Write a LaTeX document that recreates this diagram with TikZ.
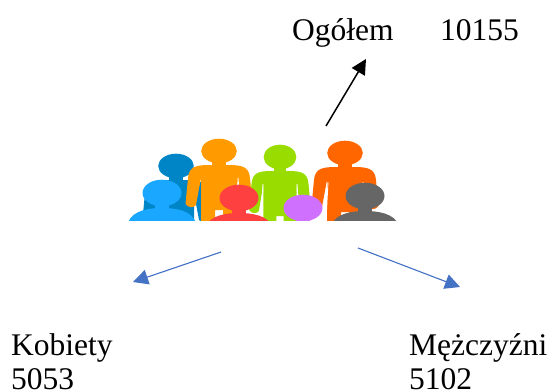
\documentclass[tikz,border=0pt]{standalone}
\usepackage{fontspec}
\setmainfont{Liberation Serif}
\usetikzlibrary{arrows.meta}
\definecolor{armblue}{HTML}{4472C4}
\definecolor{darkblue}{HTML}{0085C7}
\definecolor{lightblue}{HTML}{1AA7FF}
\definecolor{carrot}{HTML}{FF9A00}
\definecolor{lime}{HTML}{99DD00}
\definecolor{deeporange}{HTML}{FF6600}
\definecolor{coral}{HTML}{FF4040}
\definecolor{violet}{HTML}{D070FF}
\definecolor{slate}{HTML}{666666}
\tikzset{
  standing/.pic={
    \fill (0,0) ellipse (17.8 and 12.3);
    \fill (-7,8) rectangle (7,18);
    \fill (-8,14) .. controls (-22,14) and (-30,15) .. (-31,27)
      -- (-33.5,53) .. controls (-31,57) and (-25,57) .. (-23,54)
      -- (-18,27) -- (-18,72) -- (-4,72) -- (-4,59) -- (4,59) -- (4,72) -- (18,72)
      -- (18,27) -- (23,54) .. controls (25,57) and (31,57) .. (33.5,53)
      -- (31,27) .. controls (30,15) and (22,14) .. (8,14) -- cycle;
  },
  sitting/.pic={
    \fill (0,0) ellipse (19.5 and 13.3);
    \fill (-7,8) rectangle (7,20);
    \fill (-34,30) .. controls (-30,17) and (-12,15) .. (0,15)
      .. controls (12,15) and (30,17) .. (34,30) -- cycle;
  }
}
\begin{document}
\begin{tikzpicture}[x=1pt, y=-1pt]
    \tikzstyle{txt} = [anchor=base west, inner sep=0pt, font=\fontsize{31.5}{36}\selectfont]
    \tikzstyle{gap} = [draw=white, line width=0.9pt]
    \tikzstyle{line} = [-{Triangle[length=15pt, width=15pt]}]
    \useasboundingbox (0,0) rectangle (551,391);

    \begin{scope}
      \clip (0,0) rectangle (551,220);
      \pic [darkblue] at (176,166) {standing};
      \pic [carrot] at (219,151) {standing};
      \draw [gap] (238,178) -- (241,220);
      \pic [lime, xscale=0.92] at (280,157) {standing};
      \draw [gap] (263,184) -- (261,220);
      \draw [gap] (297,184) -- (299,220);
      \pic [deeporange] at (345,153) {standing};
      \draw [gap] (328,182) -- (326,220);
      \draw [gap] (363,182) -- (365,220);
      \pic [lightblue] at (162,193) {sitting};
      \pic [coral] at (239,198) {sitting};
      \pic [violet] at (303,208) {sitting};
      \pic [slate] at (365,196) {sitting};
    \end{scope}

    \node [txt] (total) at (292,40) {Ogółem};
    \node [txt] (totalnum) at (440,40) {10155};
    \node [txt] (women) at (11,355) {Kobiety};
    \node [txt] (womennum) at (11,389) {5053};
    \node [txt] (men) at (409,355) {Mężczyźni};
    \node [txt] (mennum) at (409,389) {5102};

    \coordinate (topstart) at (326,126);
    \coordinate (topend) at (366,59);
    \coordinate (leftstart) at (221,252);
    \coordinate (leftend) at (133,282);
    \coordinate (rightstart) at (358,248);
    \coordinate (rightend) at (460,287);

    \draw [line, line width=1.5pt] (topstart) -- (topend);
    \draw [line, draw=armblue, fill=armblue, line width=1.1pt] (leftstart) -- (leftend);
    \draw [line, draw=armblue, fill=armblue, line width=1.1pt] (rightstart) -- (rightend);
\end{tikzpicture}
\end{document}
